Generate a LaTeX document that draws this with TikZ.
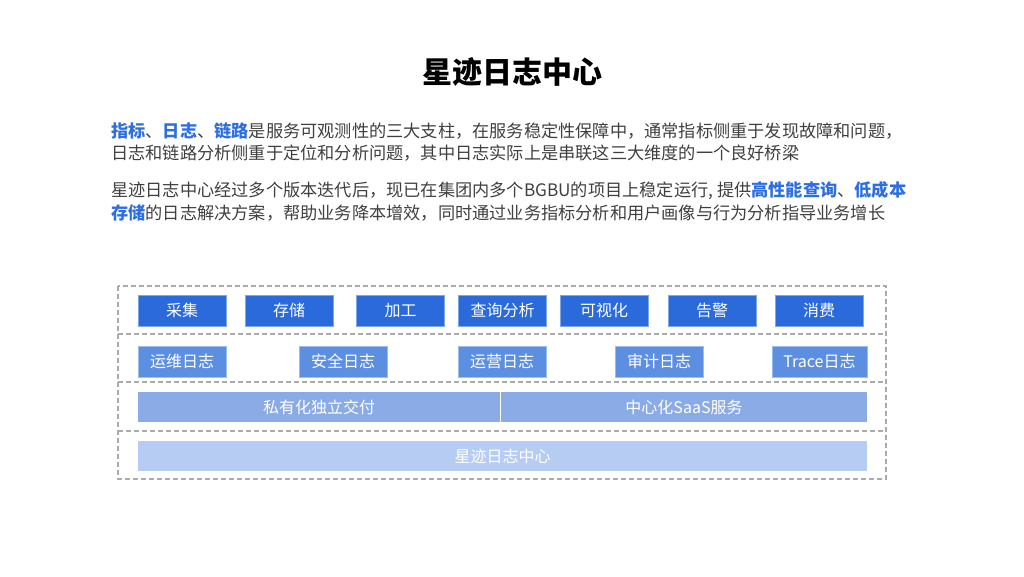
\documentclass[tikz,border=0pt]{standalone}
\usepackage{fontspec}
\setmainfont{Noto Sans CJK SC}
\usetikzlibrary{positioning}
\definecolor{txtgray}{HTML}{3F3F3F}
\definecolor{hiblue}{HTML}{2C6FE2}
\definecolor{toolblue}{HTML}{2A6ADB}
\definecolor{logblue}{HTML}{5C8FE2}
\definecolor{deployblue}{HTML}{8AABE5}
\definecolor{baseblue}{HTML}{B7CCF2}
\definecolor{dashgray}{HTML}{ABABAB}
\newcommand{\hilite}[1]{{\bfseries\color{hiblue}#1}}

\begin{document}
\begin{tikzpicture}[x=1pt, y=-1pt,
    para/.style={anchor=west, inner sep=0pt, text=txtgray, font=\fontsize{17.2}{20}\selectfont},
    layer/.style={draw=dashgray, line width=1.4pt, dash pattern=on 5pt off 3pt},
    cell/.style={rectangle, inner sep=0pt, text=white, font=\fontsize{16}{18}\selectfont, minimum height=31pt},
    toolbox/.style={cell, fill=toolblue, draw=toolblue!60!white, minimum width=88pt},
    logbox/.style={cell, fill=logblue, draw=logblue!60!white, minimum width=88pt},
    deploybox/.style={cell, fill=deployblue, minimum height=30pt},
    basebox/.style={cell, fill=baseblue, minimum height=30pt, minimum width=729pt}]
    \useasboundingbox (0,0) rectangle (1024,576);
    % title
    \node[inner sep=0pt, font=\fontsize{30}{35}\selectfont\bfseries] (title) at (512,72) {星迹日志中心};
    % intro text
    \node[para] (introA) at (111,131) {\hilite{指标}、\hilite{日志}、\hilite{链路}是服务可观测性的三大支柱，在服务稳定性保障中，通常指标侧重于发现故障和问题，};
    \node[para] (introB) at (111,153) {日志和链路分析侧重于定位和分析问题，其中日志实际上是串联这三大维度的一个良好桥梁};
    \node[para] (introC) at (111,191) {星迹日志中心经过多个版本迭代后，现已在集团内多个BGBU的项目上稳定运行, 提供\hilite{高性能查询}、\hilite{低成本}};
    \node[para] (introD) at (111,213) {\hilite{存储}的日志解决方案，帮助业务降本增效，同时通过业务指标分析和用户画像与行为分析指导业务增长};
    % layers
    \path[layer] (118,286) rectangle (886,479);
    \path[layer] (118,334) -- (886,334);
    \path[layer] (118,382) -- (886,382);
    \path[layer] (118,431) -- (886,431);
    % functions
    \node[toolbox] (collect) at (182,310.5) {采集};
    \node[toolbox] (store) at (289,310.5) {存储};
    \node[toolbox] (process) at (400.5,310.5) {加工};
    \node[toolbox] (query) at (502.5,310.5) {查询分析};
    \node[toolbox] (visual) at (604,310.5) {可视化};
    \node[toolbox] (alarm) at (712,310.5) {告警};
    \node[toolbox] (consume) at (819,310.5) {消费};
    % log types
    \node[logbox] (opslog) at (182,361.5) {运维日志};
    \node[logbox] (seclog) at (343,361.5) {安全日志};
    \node[logbox] (bizlog) at (502,361.5) {运营日志};
    \node[logbox] (auditlog) at (659,361.5) {审计日志};
    \node[logbox, minimum width=95pt] (tracelog) at (819.5,361.5) {Trace日志};
    % delivery
    \node[deploybox, minimum width=362pt] (private) at (319,407) {私有化独立交付};
    \node[deploybox, minimum width=366pt] (saas) at (684,407) {中心化SaaS服务};
    % base
    \node[basebox] (center) at (502.5,456) {星迹日志中心};
\end{tikzpicture}
\end{document}
